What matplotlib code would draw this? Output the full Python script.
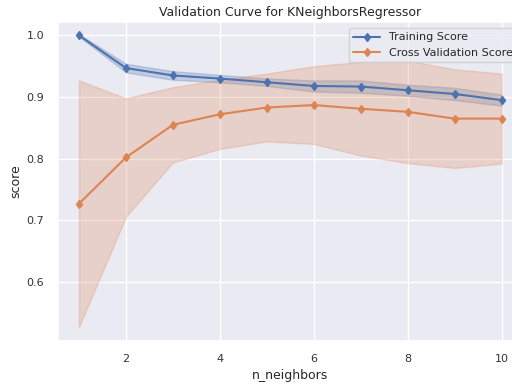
import numpy as np
import seaborn as sns
from matplotlib import pyplot as plt

n_neighbors = [1, 2, 3, 4, 5, 6, 7, 8, 9, 10]
train_mean = [1.000, 0.947, 0.935, 0.930, 0.924, 0.918, 0.917, 0.911, 0.905, 0.895]
train_std = [0.002, 0.007, 0.007, 0.006, 0.006, 0.009, 0.010, 0.009, 0.010, 0.009]
cv_mean = [0.727, 0.802, 0.855, 0.872, 0.883, 0.887, 0.881, 0.876, 0.865, 0.865]
cv_std = [0.200, 0.096, 0.061, 0.056, 0.055, 0.063, 0.076, 0.083, 0.080, 0.073]

sns.set_theme(style="darkgrid")

fig = plt.figure(figsize=(5.12, 3.87), dpi=100)
# axes deliberately runs past the right edge, like the cropped original
ax = fig.add_axes([0.113, 0.12, 0.908, 0.822])

x = np.array(n_neighbors)
tr = np.array(train_mean)
trs = np.array(train_std)
cv = np.array(cv_mean)
cvs = np.array(cv_std)

blue, orange = sns.color_palette()[0], sns.color_palette()[1]
ax.fill_between(x, tr - trs, tr + trs, color=blue, alpha=0.25)
ax.fill_between(x, cv - cvs, cv + cvs, color=orange, alpha=0.25)
ax.plot(x, tr, marker="d", color=blue, markersize=4.5, linewidth=1.5, label="Training Score")
ax.plot(x, cv, marker="d", color=orange, markersize=4.5, linewidth=1.5, label="Cross Validation Score")

ax.set_xlim(0.55, 10.45)
ax.set_ylim(0.505, 1.021)
ax.set_title("Validation Curve for KNeighborsRegressor", fontsize=9, pad=5)
ax.set_xlabel("n_neighbors", fontsize=9, labelpad=3)
ax.set_ylabel("score", fontsize=9, labelpad=3)
ax.tick_params(labelsize=8, length=0, pad=10, labelcolor="#333333")
ax.legend(loc="upper right", fontsize=8, handlelength=2.4)

fig.savefig("out.png", dpi=100)
